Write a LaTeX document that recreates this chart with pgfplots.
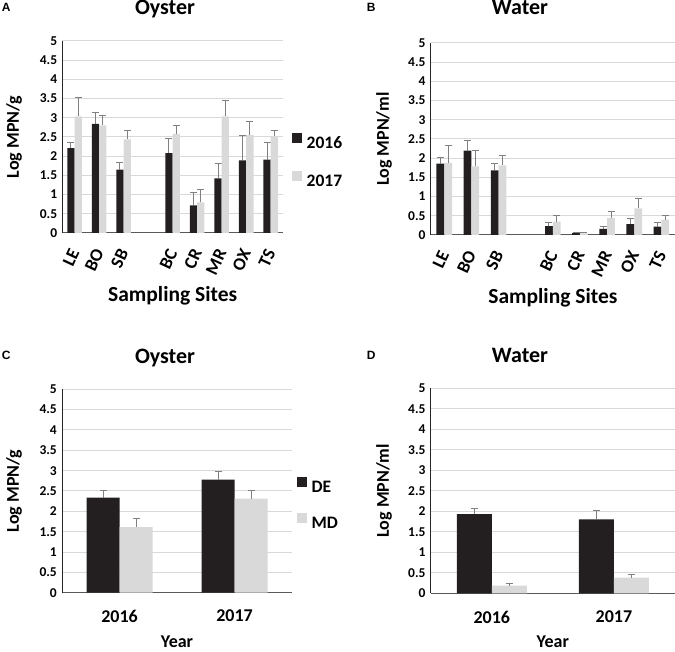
\documentclass[border=0pt]{standalone}
\usepackage{fontspec}
\setmainfont{Carlito}
\newfontfamily\arialfont{Liberation Sans}
\usepackage{pgfplots}
\usepackage{pgfplotstable}
\pgfplotsset{compat=1.18}
\definecolor{barblack}{HTML}{231F20}
\definecolor{bargray}{HTML}{D9D9DA}
\definecolor{errgray}{HTML}{808080}
\definecolor{gridgray}{HTML}{D9D9D9}
\definecolor{axisgray}{HTML}{595959}

\newcommand{\fs}[1]{\fontsize{#1}{#1}\selectfont\bfseries}

% Panel A: oyster, sampling sites
\pgfplotstableread{
x v16 e16 v17 e17
0 2.21 0.14 3.04 0.50
1 2.84 0.29 2.80 0.27
2 1.65 0.18 2.44 0.22
4 2.08 0.38 2.58 0.22
5 0.72 0.33 0.80 0.34
6 1.42 0.40 3.04 0.40
7 1.89 0.64 2.55 0.35
8 1.91 0.44 2.52 0.14
}\tabA
% Panel B: water, sampling sites
\pgfplotstableread{
x v16 e16 v17 e17
0 1.86 0.16 1.88 0.45
1 2.20 0.27 1.79 0.42
2 1.68 0.18 1.81 0.27
4 0.23 0.10 0.35 0.16
5 0.05 0.02 0.04 0.03
6 0.16 0.07 0.44 0.17
7 0.28 0.15 0.69 0.25
8 0.22 0.10 0.40 0.10
}\tabB
% Panel C: oyster, year
\pgfplotstableread{
x de ede md emd
0 2.34 0.18 1.61 0.21
1 2.78 0.20 2.31 0.19
}\tabC
% Panel D: water, year
\pgfplotstableread{
x de ede md emd
0 1.93 0.13 0.19 0.04
1 1.80 0.21 0.38 0.07
}\tabD

\pgfplotsset{
  panel/.style={
    scale only axis,
    ymin=0, ymax=5,
    ytick={0,0.5,1,1.5,2,2.5,3,3.5,4,4.5,5},
    yticklabels={0,0.5,1,1.5,2,2.5,3,3.5,4,4.5,5},
    ymajorgrids, grid style={draw=gridgray, line width=1pt},
    axis x line*=bottom, axis y line*=left,
    x axis line style={draw=axisgray, line width=1pt, -},
    y axis line style={draw=black!85, line width=1pt, -},
    major tick length=0pt,
    ybar=0pt,
    yticklabel style={font=\fs{13.5}, anchor=east, inner sep=0pt},
    yticklabel shift=5pt,
    legend cell align=left,
  },
  ylab/.style={every axis y label/.style={at={([xshift=#1]rel axis cs:0,0.5)}, rotate=90, anchor=center, font=\fs{18}}},
  xlab/.style 2 args={every axis x label/.style={at={([yshift=#1]rel axis cs:0.5,0)}, anchor=base, font=\fs{#2}}},
  ttl/.style 2 args={every axis title/.style={at={([xshift=#1,yshift=#2]rel axis cs:0.5,1)}, anchor=base, font=\fs{22}}},
  sqleg/.style={/pgfplots/legend image code/.code={\fill[##1] (0pt,0pt) rectangle (10pt,10pt);}},
  darkbar/.style={fill=barblack, draw=none, sqleg,
    error bars/.cd, y dir=plus, y explicit,
    error bar style={draw=errgray, line width=1pt},
    error mark options={rotate=90, draw=errgray, line width=1pt, mark size=3.5pt}},
  lightbar/.style={fill=bargray, draw=none, sqleg,
    error bars/.cd, y dir=plus, y explicit,
    error bar style={draw=errgray, line width=1pt},
    error mark options={rotate=90, draw=errgray, line width=1pt, mark size=3.5pt}},
  sitex/.style={
    xmin=-0.5, xmax=8.5,
    xtick={0,1,2,4,5,6,7,8},
    xticklabels={LE,BO,SB,BC,CR,MR,OX,TS},
    xticklabel style={rotate=65, anchor=east, inner sep=0pt, font=\fs{18}},
    xticklabel shift=17pt,
  },
  yearx/.style={
    xmin=-0.5, xmax=1.5,
    xtick={0,1},
    xticklabels={2016,2017},
    xticklabel style={anchor=north, inner sep=0pt, font=\fs{18}},
    xticklabel shift=17.3pt,
  },
}

\begin{document}
\begin{tikzpicture}
\useasboundingbox (0pt,0pt) rectangle (675pt,652pt);

% Panel A
\begin{axis}[panel, sitex,
  at={(62.3pt,419pt)}, anchor=south west,
  width=220.7pt, height=192pt,
  bar width=7.3pt,
  ylab=-48.3pt, xlab={-68.7pt}{21.5}, ttl={-7.65pt}{26pt},
  title={Oyster}, ylabel={Log MPN/g}, xlabel={Sampling Sites},
  legend style={at={(1.0394,0.5208)}, anchor=north west, draw=none, fill=none,
    inner sep=0pt, outer sep=0pt, row sep=22.3pt, column sep=5pt, font=\fs{17.5},
    nodes={inner sep=0pt, text height=11pt, text depth=0pt}},
]
\addplot[darkbar] table[x=x, y=v16, y error=e16] {\tabA};
\addplot[lightbar] table[x=x, y=v17, y error=e17] {\tabA};
\legend{2016,2017}
\end{axis}

% Panel B
\begin{axis}[panel, sitex,
  at={(430.7pt,417pt)}, anchor=south west,
  width=244.3pt, height=192pt,
  bar width=7.8pt,
  ylab=-46.7pt, xlab={-69pt}{21.5}, ttl={-32.85pt}{28pt},
  title={Water}, ylabel={Log MPN/ml}, xlabel={Sampling Sites},
]
\addplot[darkbar] table[x=x, y=v16, y error=e16] {\tabB};
\addplot[lightbar] table[x=x, y=v17, y error=e17] {\tabB};
\end{axis}

% Panel C
\begin{axis}[panel, yearx,
  at={(62pt,59.3pt)}, anchor=south west,
  width=230pt, height=203.4pt,
  bar width=33pt,
  ylab=-48pt, xlab={-55pt}{18}, ttl={-12pt}{26pt},
  title={Oyster}, ylabel={Log MPN/g}, xlabel={Year},
  legend style={at={(1.0204,0.5674)}, anchor=north west, draw=none, fill=none,
    inner sep=0pt, outer sep=0pt, row sep=20.7pt, column sep=5pt, font=\fs{17.5},
    nodes={inner sep=0pt, text height=11pt, text depth=0pt}},
]
\addplot[darkbar] table[x=x, y=de, y error=ede] {\tabC};
\addplot[lightbar] table[x=x, y=md, y error=emd] {\tabC};
\legend{DE,MD}
\end{axis}

% Panel D
\begin{axis}[panel, yearx,
  at={(430.7pt,58.7pt)}, anchor=south west,
  width=244.3pt, height=205pt,
  bar width=35pt,
  ylab=-46.7pt, xlab={-54.4pt}{18}, ttl={-32.85pt}{25.6pt},
  title={Water}, ylabel={Log MPN/ml}, xlabel={Year},
]
\addplot[darkbar] table[x=x, y=de, y error=ede] {\tabD};
\addplot[lightbar] table[x=x, y=md, y error=emd] {\tabD};
\end{axis}

% Panel letters
\node[anchor=base west, inner sep=0pt, font=\arialfont\bfseries\fontsize{12}{12}\selectfont] at (1.7pt,640.3pt) {A};
\node[anchor=base west, inner sep=0pt, font=\arialfont\bfseries\fontsize{12}{12}\selectfont] at (366.7pt,640.3pt) {B};
\node[anchor=base west, inner sep=0pt, font=\arialfont\bfseries\fontsize{12}{12}\selectfont] at (1.7pt,292pt) {C};
\node[anchor=base west, inner sep=0pt, font=\arialfont\bfseries\fontsize{12}{12}\selectfont] at (366.7pt,292pt) {D};
\end{tikzpicture}
\end{document}
